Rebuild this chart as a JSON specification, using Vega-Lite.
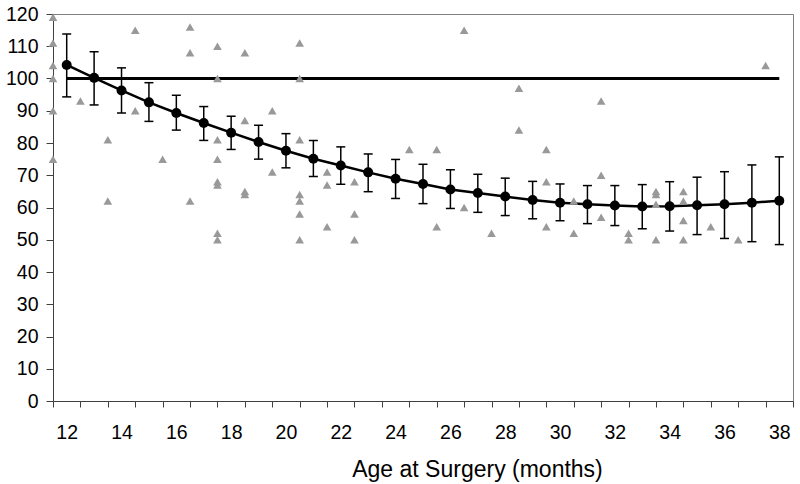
{
  "$schema": "https://vega.github.io/schema/vega-lite/v6.json",
  "width": 740,
  "height": 387,
  "autosize": {"type": "none"},
  "padding": {"left": 53, "top": 14, "right": 7, "bottom": 83},
  "background": "white",
  "config": {
    "view": {"stroke": "#808080", "strokeWidth": 1},
    "font": "Liberation Sans",
    "axis": {"grid": false, "domainColor": "#404040", "tickColor": "#404040", "labelColor": "black", "labelFont": "Liberation Sans", "titleFont": "Liberation Sans", "titleColor": "black", "domainWidth": 1, "tickWidth": 1},
    "axisY": {"labelFontSize": 19.5, "tickSize": 7, "labelPadding": 8}
  },
  "datasets": {
    "means": [
      {"age": 12, "mean": 104.2, "lo": 94.3, "hi": 113.8},
      {"age": 13, "mean": 100.2, "lo": 91.8, "hi": 108.3},
      {"age": 14, "mean": 96.3, "lo": 89.3, "hi": 103.3},
      {"age": 15, "mean": 92.6, "lo": 86.7, "hi": 98.7},
      {"age": 16, "mean": 89.3, "lo": 84.0, "hi": 94.8},
      {"age": 17, "mean": 86.2, "lo": 80.8, "hi": 91.3},
      {"age": 18, "mean": 83.2, "lo": 78.0, "hi": 88.3},
      {"age": 19, "mean": 80.3, "lo": 75.0, "hi": 85.5},
      {"age": 20, "mean": 77.6, "lo": 72.3, "hi": 82.9},
      {"age": 21, "mean": 75.1, "lo": 69.6, "hi": 80.8},
      {"age": 22, "mean": 73.0, "lo": 67.2, "hi": 78.8},
      {"age": 23, "mean": 70.9, "lo": 64.9, "hi": 76.6},
      {"age": 24, "mean": 68.9, "lo": 62.8, "hi": 74.9},
      {"age": 25, "mean": 67.3, "lo": 61.2, "hi": 73.4},
      {"age": 26, "mean": 65.6, "lo": 59.7, "hi": 71.7},
      {"age": 27, "mean": 64.5, "lo": 58.5, "hi": 70.3},
      {"age": 28, "mean": 63.4, "lo": 57.5, "hi": 69.1},
      {"age": 29, "mean": 62.3, "lo": 56.5, "hi": 68.1},
      {"age": 30, "mean": 61.5, "lo": 55.9, "hi": 67.3},
      {"age": 31, "mean": 61.0, "lo": 55.0, "hi": 66.8},
      {"age": 32, "mean": 60.6, "lo": 54.4, "hi": 66.8},
      {"age": 33, "mean": 60.3, "lo": 53.4, "hi": 67.1},
      {"age": 34, "mean": 60.4, "lo": 52.7, "hi": 68.0},
      {"age": 35, "mean": 60.7, "lo": 51.6, "hi": 69.4},
      {"age": 36, "mean": 61.0, "lo": 50.4, "hi": 71.1},
      {"age": 37, "mean": 61.5, "lo": 49.4, "hi": 73.2},
      {"age": 38, "mean": 62.1, "lo": 48.5, "hi": 75.7}
    ],
    "points": [
      {"age": 11.5, "score": 119}, {"age": 11.5, "score": 111}, {"age": 11.5, "score": 104}, {"age": 11.5, "score": 100}, {"age": 11.5, "score": 90}, {"age": 11.5, "score": 75},
      {"age": 12.5, "score": 93},
      {"age": 13.5, "score": 81}, {"age": 13.5, "score": 62},
      {"age": 14.5, "score": 115}, {"age": 14.5, "score": 90},
      {"age": 15.5, "score": 75},
      {"age": 16.5, "score": 116}, {"age": 16.5, "score": 108}, {"age": 16.5, "score": 62},
      {"age": 17.5, "score": 110}, {"age": 17.5, "score": 100}, {"age": 17.5, "score": 81}, {"age": 17.5, "score": 75}, {"age": 17.5, "score": 68}, {"age": 17.5, "score": 67}, {"age": 17.5, "score": 52}, {"age": 17.5, "score": 50},
      {"age": 18.5, "score": 108}, {"age": 18.5, "score": 87}, {"age": 18.5, "score": 65}, {"age": 18.5, "score": 64},
      {"age": 19.5, "score": 90}, {"age": 19.5, "score": 71},
      {"age": 20.5, "score": 111}, {"age": 20.5, "score": 100}, {"age": 20.5, "score": 81}, {"age": 20.5, "score": 64}, {"age": 20.5, "score": 62}, {"age": 20.5, "score": 58}, {"age": 20.5, "score": 50},
      {"age": 21.5, "score": 71}, {"age": 21.5, "score": 67}, {"age": 21.5, "score": 54},
      {"age": 22.5, "score": 68}, {"age": 22.5, "score": 58}, {"age": 22.5, "score": 50},
      {"age": 24.5, "score": 78},
      {"age": 25.5, "score": 78}, {"age": 25.5, "score": 54},
      {"age": 26.5, "score": 115}, {"age": 26.5, "score": 60},
      {"age": 27.5, "score": 52},
      {"age": 28.5, "score": 97}, {"age": 28.5, "score": 84},
      {"age": 29.5, "score": 78}, {"age": 29.5, "score": 68}, {"age": 29.5, "score": 54},
      {"age": 30.5, "score": 62}, {"age": 30.5, "score": 52},
      {"age": 31.5, "score": 93}, {"age": 31.5, "score": 70}, {"age": 31.5, "score": 57},
      {"age": 32.5, "score": 52}, {"age": 32.5, "score": 50},
      {"age": 33.5, "score": 65}, {"age": 33.5, "score": 64}, {"age": 33.5, "score": 61}, {"age": 33.5, "score": 50},
      {"age": 34.5, "score": 65}, {"age": 34.5, "score": 62}, {"age": 34.5, "score": 56}, {"age": 34.5, "score": 50},
      {"age": 35.5, "score": 54},
      {"age": 36.5, "score": 50},
      {"age": 37.5, "score": 104}
    ],
    "ref": [
      {"age": 12, "end": 38, "value": 100}
    ]
  },
  "encoding": {
    "x": {
      "field": "age",
      "type": "quantitative",
      "scale": {"domain": [11.5, 38.5], "nice": false, "zero": false},
      "axis": {
        "values": [11.5, 12, 12.5, 13.5, 14, 14.5, 15.5, 16, 16.5, 17.5, 18, 18.5, 19.5, 20, 20.5, 21.5, 22, 22.5, 23.5, 24, 24.5, 25.5, 26, 26.5, 27.5, 28, 28.5, 29.5, 30, 30.5, 31.5, 32, 32.5, 33.5, 34, 34.5, 35.5, 36, 36.5, 37.5, 38, 38.5],
        "labelExpr": "datum.value % 2 === 0 ? '' + datum.value : ''",
        "tickOpacity": {"condition": {"test": "datum.value % 1 === 0", "value": 0}, "value": 1},
        "tickSize": 6,
        "labelFontSize": 19.5,
        "labelBaseline": "alphabetic",
        "labelPadding": 31,
        "labelOverlap": false,
        "labelFlush": false,
        "labelBound": false,
        "title": "Age at Surgery (months)",
        "titleFontSize": 23,
        "titleFontWeight": "normal",
        "titleX": 424,
        "titleY": 75,
        "titleAlign": "center",
        "titleBaseline": "alphabetic"
      }
    }
  },
  "layer": [
    {
      "data": {"name": "ref"},
      "mark": {"type": "rule", "color": "black", "strokeWidth": 3.2},
      "encoding": {
        "x2": {"field": "end"},
        "y": {
          "field": "value", "type": "quantitative",
          "scale": {"domain": [0, 120], "nice": false, "zero": true},
          "axis": {"values": [0, 10, 20, 30, 40, 50, 60, 70, 80, 90, 100, 110, 120], "title": null}
        }
      }
    },
    {
      "data": {"name": "means"},
      "mark": {"type": "line", "color": "black", "strokeWidth": 2.5},
      "encoding": {
        "y": {"field": "mean", "type": "quantitative", "scale": {"domain": [0, 120], "nice": false, "zero": true},
          "axis": {"values": [0, 10, 20, 30, 40, 50, 60, 70, 80, 90, 100, 110, 120], "title": null}}
      }
    },
    {
      "data": {"name": "means"},
      "mark": {"type": "rule", "color": "black", "strokeWidth": 1.5},
      "encoding": {
        "y": {"field": "lo", "type": "quantitative", "scale": {"domain": [0, 120], "nice": false, "zero": true},
          "axis": {"values": [0, 10, 20, 30, 40, 50, 60, 70, 80, 90, 100, 110, 120], "title": null}},
        "y2": {"field": "hi"}
      }
    },
    {
      "data": {"name": "means"},
      "mark": {"type": "tick", "color": "black", "orient": "horizontal", "size": 9, "thickness": 1.5, "opacity": 1},
      "encoding": {
        "y": {"field": "lo", "type": "quantitative", "scale": {"domain": [0, 120], "nice": false, "zero": true},
          "axis": {"values": [0, 10, 20, 30, 40, 50, 60, 70, 80, 90, 100, 110, 120], "title": null}}
      }
    },
    {
      "data": {"name": "means"},
      "mark": {"type": "tick", "color": "black", "orient": "horizontal", "size": 9, "thickness": 1.5, "opacity": 1},
      "encoding": {
        "y": {"field": "hi", "type": "quantitative", "scale": {"domain": [0, 120], "nice": false, "zero": true},
          "axis": {"values": [0, 10, 20, 30, 40, 50, 60, 70, 80, 90, 100, 110, 120], "title": null}}
      }
    },
    {
      "data": {"name": "means"},
      "mark": {"type": "point", "filled": true, "color": "black", "size": 100, "opacity": 1},
      "encoding": {
        "y": {"field": "mean", "type": "quantitative", "scale": {"domain": [0, 120], "nice": false, "zero": true},
          "axis": {"values": [0, 10, 20, 30, 40, 50, 60, 70, 80, 90, 100, 110, 120], "title": null}}
      }
    },
    {
      "data": {"name": "points"},
      "mark": {"type": "point", "shape": "triangle-up", "filled": true, "color": "#999999", "size": 75, "opacity": 1},
      "encoding": {
        "y": {"field": "score", "type": "quantitative", "scale": {"domain": [0, 120], "nice": false, "zero": true},
          "axis": {"values": [0, 10, 20, 30, 40, 50, 60, 70, 80, 90, 100, 110, 120], "title": null}}
      }
    }
  ]
}
